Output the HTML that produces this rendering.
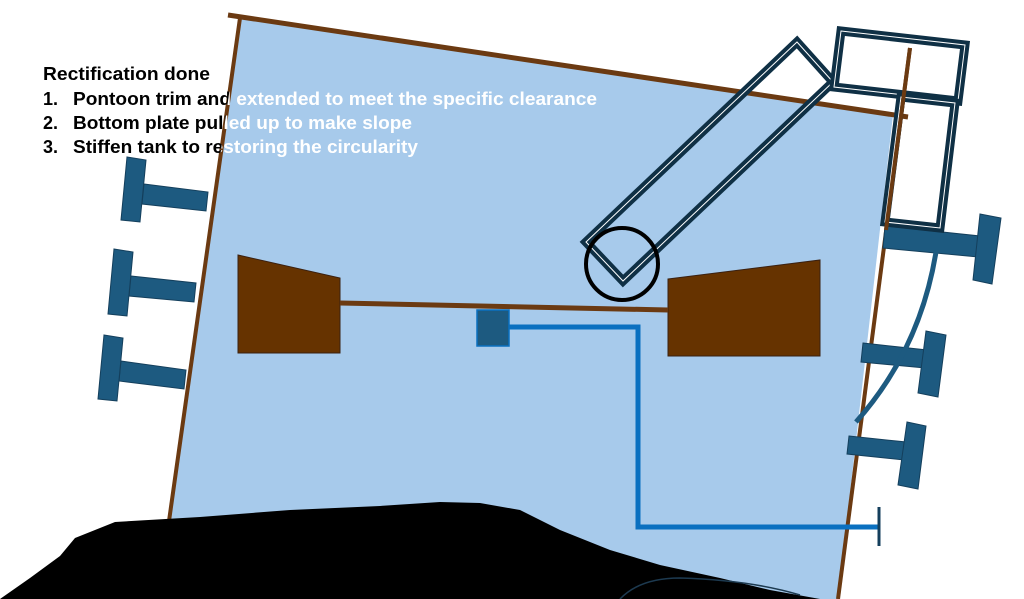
<!DOCTYPE html>
<html><head><meta charset="utf-8"><style>
html,body{margin:0;padding:0;background:#fff;}
svg{display:block;}
text{font-family:"Liberation Sans",sans-serif;font-weight:bold;font-size:18px;}
</style></head><body>
<svg width="1024" height="599" viewBox="0 0 1024 599" xmlns="http://www.w3.org/2000/svg">
<defs>
<clipPath id="tank"><polygon points="240,17 893,115 838,599 157,599"/></clipPath>
<clipPath id="outside"><path d="M0,0H1024V599H0Z M240,17 L893,115 L838,599 L157,599Z" clip-rule="evenodd"/></clipPath>
</defs>
<polygon points="240,17 893,115 838,599 157,599" fill="#a7caeb"/>
<line x1="240" y1="18" x2="158" y2="599" stroke="#6b3a12" stroke-width="4"/>
<line x1="228" y1="15" x2="908" y2="117" stroke="#6b3a12" stroke-width="5"/>
<line x1="910" y1="48" x2="838" y2="599" stroke="#6b3a12" stroke-width="4"/>
<g fill="#1d5a80" stroke="#143f5c" stroke-width="1">
<polygon points="144,184 208,192 206,211 142,204"/>
<polygon points="127,157 146,160 140,222 121,220"/>
<polygon points="131,276 196,283 194,302 129,296"/>
<polygon points="114,249 133,252 127,316 108,314"/>
<polygon points="121,361 186,370 184,389 119,381"/>
<polygon points="104,335 123,338 117,401 98,399"/>
<polygon points="885,226 980,236 978,257 883,248"/>
<polygon points="980,214 1001,218 992,284 973,280"/>
<polygon points="863,343 927,350 925,368 861,362"/>
<polygon points="926,331 946,335 938,397 918,393"/>
<polygon points="849,436 906,442 904,460 847,454"/>
<polygon points="907,422 926,426 918,489 898,485"/>
</g>
<path d="M936,252 Q920,350 856,422" fill="none" stroke="#1d5a80" stroke-width="5"/>
<polygon points="238,255 340,278 340,353 238,353" fill="#663300" stroke="#3a2010"/>
<polygon points="668,279 820,260 820,356 668,356" fill="#663300" stroke="#3a2010"/>
<line x1="340" y1="303" x2="668" y2="310" stroke="#6b3a12" stroke-width="5"/>
<polyline points="509,327 638,327 638,527 878,527" fill="none" stroke="#0a70c0" stroke-width="5"/>
<line x1="879" y1="507" x2="879" y2="546" stroke="#143f5c" stroke-width="3"/>
<rect x="477" y="310" width="32" height="36" fill="#1d5a80" stroke="#0a70c0" stroke-width="1.5"/>
<g fill="none" stroke="#0f3045">
<polygon points="797,42 833,82 623,281 586,242" stroke-width="9"/>
<polygon points="797,42 833,82 623,281 586,242" stroke-width="1" stroke="#fff"/>
<polygon points="841,31 965,45 958,101 834,87" stroke-width="9"/>
<polygon points="841,31 965,45 958,101 834,87" stroke-width="1" stroke="#fff"/>
<polygon points="901,97 955,103 940,228 885,222" stroke-width="9"/>
<polygon points="901,97 955,103 940,228 885,222" stroke-width="1" stroke="#fff"/>
</g>
<line x1="910" y1="48" x2="886" y2="230" stroke="#6b3a12" stroke-width="4"/>
<circle cx="622" cy="264" r="36" fill="none" stroke="#000" stroke-width="4"/>
<path d="M0,599 L30,578 L60,556 L75,538 L115,522 L200,517 L290,510 L380,506 L440,502 L480,503 L520,510 L560,530 L610,550 L660,565 L720,578 L770,590 L820,599 Z" fill="#000"/>
<path d="M620,599 Q640,578 680,578 Q750,580 800,595" fill="none" stroke="#1d3a50" stroke-width="1.5"/>
<g clip-path="url(#outside)" fill="#000">
<text x="43" y="80" textLength="167" lengthAdjust="spacingAndGlyphs">Rectification done</text>
<text x="43" y="105">1.</text><text x="73" y="105" textLength="524" lengthAdjust="spacingAndGlyphs">Pontoon trim and extended to meet the specific clearance</text>
<text x="43" y="129">2.</text><text x="73" y="129" textLength="339" lengthAdjust="spacingAndGlyphs">Bottom plate pulled up to make slope</text>
<text x="43" y="153">3.</text><text x="73" y="153" textLength="345" lengthAdjust="spacingAndGlyphs">Stiffen tank to restoring the circularity</text>
</g>
<g clip-path="url(#tank)" fill="#fff">
<text x="73" y="105" textLength="524" lengthAdjust="spacingAndGlyphs">Pontoon trim and extended to meet the specific clearance</text>
<text x="73" y="129" textLength="339" lengthAdjust="spacingAndGlyphs">Bottom plate pulled up to make slope</text>
<text x="73" y="153" textLength="345" lengthAdjust="spacingAndGlyphs">Stiffen tank to restoring the circularity</text>
</g>
</svg>
</body></html>
